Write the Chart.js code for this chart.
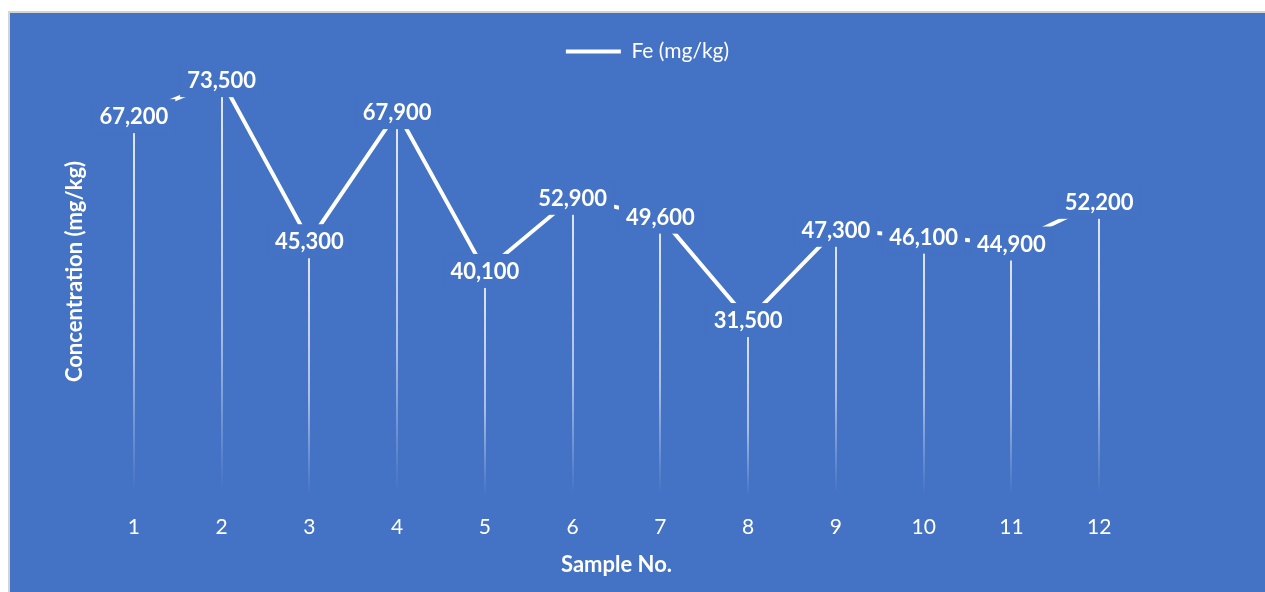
<!DOCTYPE html>
<html>
<head>
<meta charset="utf-8">
<title>Fe concentration by sample</title>
<script src="https://cdn.jsdelivr.net/npm/chart.js@4.4.1/dist/chart.umd.min.js"></script>
<style>
  html, body { margin: 0; padding: 0; background: #ffffff; overflow: hidden; }
  #frame {
    position: absolute; left: 8px; top: 11px;
    width: 1257px; height: 581px;
    border-left: 2px solid #d4d4d4; border-top: 2px solid #d4d4d4;
    background: #4472C4;
  }
  #wrap { position: absolute; left: 0; top: 0; width: 1255px; height: 579px; }
</style>
</head>
<body>
<div id="frame"><div id="wrap"><canvas id="chart"></canvas></div></div>
<script>
// Sample numbers along the x axis
const samples = ['1', '2', '3', '4', '5', '6', '7', '8', '9', '10', '11', '12'];
// Iron concentration for each sample (mg/kg)
const fe = [67200, 73500, 45300, 67900, 40100, 52900, 49600, 31500, 47300, 46100, 44900, 52200];
// Series and axis texts
const seriesName = 'Fe (mg/kg)';
const yTitle = 'Concentration (mg/kg)';
const xTitle = 'Sample No.';
// Value range of the concentration axis
const yMin = 0;
const yMax = 80000;

const BLUE = '#4472C4';
const WHITE = '#ffffff';
const FONT = 'Lato, "Open Sans", sans-serif';

// Vertical drop lines from each point down to the base, fading out toward the bottom
const dropLines = {
  id: 'dropLines',
  beforeDatasetsDraw(chart) {
    const { ctx } = chart;
    const meta = chart.getDatasetMeta(0);
    const base = chart.scales.y.getPixelForValue(yMin);
    ctx.save();
    ctx.lineWidth = 2;
    meta.data.forEach(pt => {
      const x = Math.round(pt.x);
      const g = ctx.createLinearGradient(0, pt.y, 0, base);
      g.addColorStop(0, 'rgba(255,255,255,0.85)');
      g.addColorStop(0.6, 'rgba(255,255,255,0.55)');
      g.addColorStop(0.98, 'rgba(255,255,255,0)');
      ctx.strokeStyle = g;
      ctx.beginPath();
      ctx.moveTo(x, pt.y);
      ctx.lineTo(x, base);
      ctx.stroke();
    });
    ctx.restore();
  }
};

// Value labels centred on each point, on a filled box in the background colour
const valueLabels = {
  id: 'valueLabels',
  afterDatasetsDraw(chart) {
    const { ctx } = chart;
    const meta = chart.getDatasetMeta(0);
    ctx.save();
    ctx.font = 'bold 22px ' + FONT;
    ctx.textAlign = 'center';
    ctx.textBaseline = 'middle';
    meta.data.forEach((pt, i) => {
      const text = fe[i].toLocaleString('en-US');
      const w = ctx.measureText(text).width + 14;
      const h = 34;
      ctx.fillStyle = BLUE;
      ctx.fillRect(pt.x - w / 2, pt.y - h / 2, w, h);
      ctx.fillStyle = WHITE;
      ctx.fillText(text, pt.x, pt.y + 1);
    });
    ctx.restore();
  }
};

// Lets the legend sit over the top of the plot area instead of taking its own band
const overlayLegend = {
  id: 'overlayLegend',
  beforeLayout(chart) {
    const lg = chart.legend;
    if (lg && !lg._overlayPatched) {
      const fit = lg.fit;
      lg.fit = function () {
        fit.call(this);
        this._fullHeight = this.height;
        this.height = 0;
      };
      lg._overlayPatched = true;
    }
  },
  afterLayout(chart, args, opts) {
    const lg = chart.legend;
    if (!lg) return;
    lg.top = opts.top;
    lg.height = lg._fullHeight || 0;
    lg.bottom = lg.top + lg.height;
  }
};

new Chart(document.getElementById('chart'), {
  type: 'line',
  data: {
    labels: samples,
    datasets: [{
      label: seriesName,
      data: fe,
      borderColor: WHITE,
      backgroundColor: WHITE,
      borderWidth: 4,
      pointRadius: 0,
      pointHoverRadius: 0,
      tension: 0,
      clip: false
    }]
  },
  options: {
    responsive: true,
    maintainAspectRatio: false,
    animation: false,
    events: [],
    layout: { padding: { left: 20, top: 30, right: 0, bottom: 0 } },
    plugins: {
      tooltip: { enabled: false },
      overlayLegend: { top: 18 },
      legend: {
        position: 'top',
        align: 'center',
        labels: {
          color: WHITE,
          font: { family: FONT, size: 21 },
          boxWidth: 55,
          boxHeight: 4,
          padding: 10,
          generateLabels(chart) {
            return Chart.defaults.plugins.legend.labels.generateLabels(chart)
              .map(item => Object.assign(item, { lineWidth: 0, fillStyle: WHITE }));
          }
        }
      }
    },
    scales: {
      x: {
        type: 'category',
        offset: true,
        grid: { display: false, drawTicks: false },
        border: { display: false },
        ticks: {
          color: WHITE,
          font: { family: FONT, size: 21 },
          padding: 15,
          maxRotation: 0,
          autoSkip: false
        },
        title: {
          display: true,
          text: xTitle,
          color: WHITE,
          font: { family: FONT, size: 22, weight: 'bold' },
          padding: { top: 0, bottom: 14 }
        },
        afterFit(scale) { scale.height = 92; }
      },
      y: {
        min: yMin,
        max: yMax,
        grid: { display: false },
        border: { display: false },
        ticks: { display: false },
        title: {
          display: true,
          text: yTitle,
          color: WHITE,
          font: { family: FONT, size: 22, weight: 'bold' },
          padding: { top: 32, bottom: 0 }
        },
        afterFit(scale) { scale.width = 60; }
      },
      gutter: {
        type: 'linear',
        position: 'right',
        grid: { display: false },
        border: { display: false },
        ticks: { display: false },
        afterFit(scale) { scale.width = 122; }
      }
    }
  },
  plugins: [dropLines, valueLabels, overlayLegend]
});
</script>
</body>
</html>
